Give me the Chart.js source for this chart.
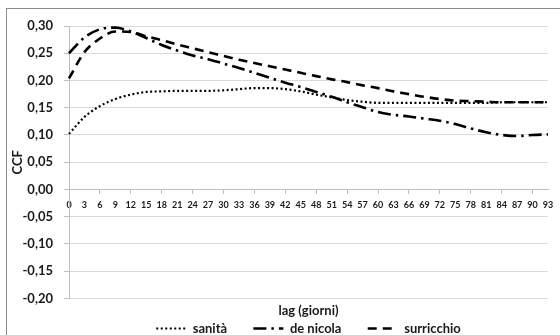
<!DOCTYPE html>
<html>
<head>
<meta charset="utf-8">
<script src="https://cdn.jsdelivr.net/npm/chart.js@4/dist/chart.umd.min.js"></script>
<style>
  html, body { margin: 0; padding: 0; background: #fff; }
  #wrap { width: 560px; height: 335px; position: relative; }
</style>
</head>
<body>
<div id="wrap"><canvas id="ccfChart"></canvas></div>
<script>
// CCF per lag (giorni) - three series

const lagLabels = ["0", "3", "6", "9", "12", "15", "18", "21", "24", "27", "30", "33",
  "36", "39", "42", "45", "48", "51", "54", "57", "60", "63", "66", "69",
  "72", "75", "78", "81", "84", "87", "90", "93"];

const sanita = [0.102, 0.133, 0.153, 0.166, 0.174, 0.179, 0.180, 0.181, 0.181, 0.181, 0.182, 0.184,
  0.186, 0.186, 0.184, 0.180, 0.174, 0.169, 0.164, 0.161, 0.159, 0.159, 0.159, 0.159,
  0.159, 0.159, 0.159, 0.159, 0.160, 0.160, 0.160, 0.160];

const deNicola = [0.250, 0.279, 0.294, 0.297, 0.290, 0.278, 0.265, 0.255, 0.246, 0.239, 0.231, 0.223,
  0.214, 0.205, 0.196, 0.188, 0.179, 0.170, 0.160, 0.151, 0.142, 0.137, 0.134, 0.130,
  0.126, 0.120, 0.112, 0.105, 0.100, 0.098, 0.100, 0.101];

const surricchio = [0.204, 0.252, 0.277, 0.290, 0.289, 0.281, 0.274, 0.266, 0.259, 0.252, 0.245, 0.238,
  0.232, 0.226, 0.220, 0.214, 0.208, 0.202, 0.197, 0.191, 0.186, 0.180, 0.175, 0.170,
  0.166, 0.163, 0.162, 0.161, 0.160, 0.160, 0.160, 0.160];

const seriesNames = ["sanità", "de nicola", "surricchio"];

const yMin = -0.2;
const yMax = 0.3;
const yStep = 0.05;

const FONT = "Lato, 'Open Sans', sans-serif";
const GRID = "#d9d9d9";
const AXIS = "#bfbfbf";

// grey frame round the whole chart, like the spreadsheet export
const framePlugin = {
  id: "frame",
  beforeDraw(chart) {
    const ctx = chart.ctx;
    ctx.save();
    ctx.fillStyle = "#fff";
    ctx.fillRect(0, 0, chart.width, chart.height);
    ctx.strokeStyle = "#8c8c8c";
    ctx.lineWidth = 1;
    ctx.strokeRect(6.5, 8.5, chart.width + 20, chart.height + 20);
    ctx.restore();
  }
};

function lineSet(label, data, dash, width) {
  return {
    label: label,
    data: data,
    borderColor: "#000",
    backgroundColor: "#000",
    borderWidth: width,
    borderDash: dash,
    pointRadius: 0,
    pointHoverRadius: 0,
    pointStyle: "line",
    fill: false,
    cubicInterpolationMode: "monotone"
  };
}

new Chart(document.getElementById("ccfChart"), {
  type: "line",
  data: {
    labels: lagLabels,
    datasets: [
      lineSet(seriesNames[0], sanita, [2, 2.5], 2.2),
      lineSet(seriesNames[1], deNicola, [13, 5, 2.5, 5], 2.6),
      lineSet(seriesNames[2], surricchio, [9, 6], 2.6)
    ]
  },
  options: {
    responsive: true,
    maintainAspectRatio: false,
    animation: false,
    layout: { padding: { top: 26, left: 10, right: 12, bottom: -10 } },
    scales: {
      x: {
        type: "category",
        position: { y: 0 },
        offset: false,
        border: { color: AXIS, width: 1 },
        grid: {
          drawOnChartArea: false,
          tickLength: 4,
          color: (ctx) => (ctx.index % 2 === 0 ? AXIS : "rgba(0,0,0,0)")
        },
        ticks: {
          autoSkip: false,
          maxRotation: 0,
          minRotation: 0,
          padding: 6,
          color: "#1a1a1a",
          font: { family: FONT, size: 9, weight: "bold" }
        }
      },
      y: {
        min: yMin,
        max: yMax,
        afterFit: (scale) => { scale.width = 59; },
        border: { color: AXIS, width: 1 },
        grid: { color: GRID, lineWidth: 1, tickLength: 5, tickColor: AXIS },
        ticks: {
          stepSize: yStep,
          padding: 11,
          color: "#1a1a1a",
          font: { family: FONT, size: 13, weight: "bold" },
          callback: (v) => (Math.abs(v) < 1e-9 ? 0 : v).toFixed(2).replace(".", ",")
        },
        title: {
          display: true,
          text: "CCF",
          color: "#1a1a1a",
          padding: 0,
          font: { family: FONT, size: 13, weight: "bold" }
        }
      }
    },
    plugins: {
      tooltip: { enabled: false },
      title: {
        display: true,
        text: "lag (giorni)",
        position: "bottom",
        weight: 500,
        fullSize: false,
        color: "#1a1a1a",
        padding: { top: 5, bottom: 2 },
        font: { family: FONT, size: 13, weight: "bold", lineHeight: 1.2 }
      },
      legend: {
        position: "bottom",
        fullSize: false,
        labels: {
          usePointStyle: true,
          pointStyleWidth: 30,
          padding: 1,
          color: "#1a1a1a",
          font: { family: FONT, size: 13, weight: "bold" },
          generateLabels: (chart) => {
            const items = Chart.defaults.plugins.legend.labels.generateLabels(chart);
            items.forEach((it, i) => {
              const ds = chart.data.datasets[it.datasetIndex];
              it.lineDash = ds.borderDash;
              it.lineWidth = ds.borderWidth;
              it.strokeStyle = ds.borderColor;
              if (i < items.length - 1) it.text += "        ";
            });
            return items;
          }
        }
      }
    }
  },
  plugins: [framePlugin]
});
</script>
</body>
</html>
